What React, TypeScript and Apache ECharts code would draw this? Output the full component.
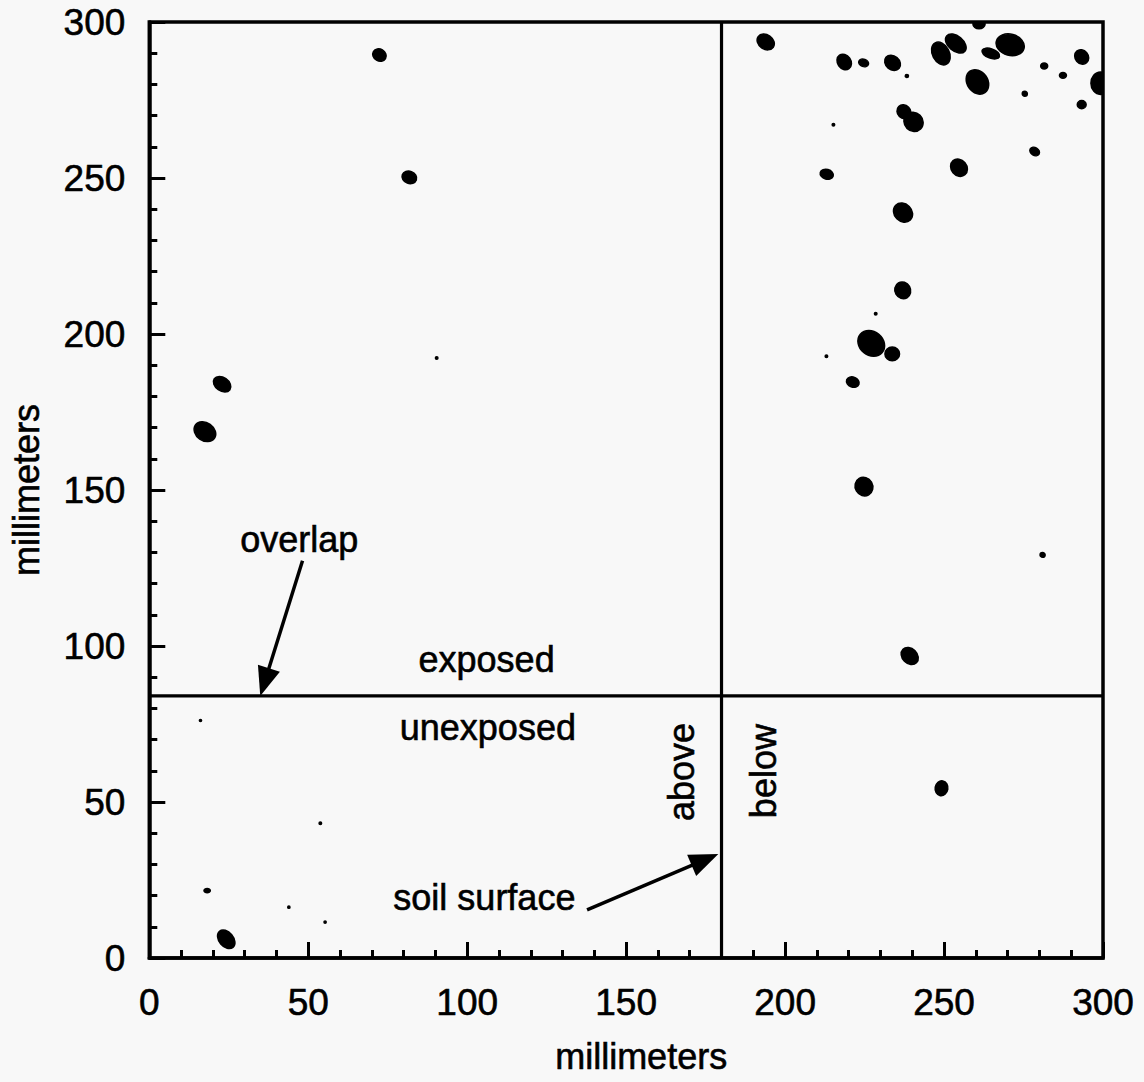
import React, { useEffect, useRef } from "react";
import * as echarts from "echarts";

// Axis range (millimeters)
const AXIS_MIN = 0;
const AXIS_MAX = 300;
const AXIS_STEP = 50;

// Divider lines: soil surface (x) and exposed/unexposed overlap (y)
const dividerX = 180;
const dividerY = 84;

// Stain blobs: centre (mm), width/height (mm), tilt (deg)
const blobX = [
  72.4, 81.8, 90.4, 22.9, 17.5, 16.1, 18.2, 43.9, 53.8, 55.3, 24.2,
  193.9, 218.6, 224.7, 233.8, 238.3, 249.0, 253.7, 261.0, 270.8, 264.7,
  260.5, 293.3, 281.5, 287.4, 275.4, 293.3, 299.2, 215.2, 237.4, 240.4,
  278.5, 213.1, 254.7, 237.1, 237.0, 228.5, 227.1, 233.7, 213.0, 221.3,
  224.8, 281.0, 239.2, 249.2,
];
const blobY = [
  289.4, 250.2, 192.3, 183.9, 168.7, 76.1, 21.6, 16.3, 43.2, 11.5, 6.0,
  293.6, 287.2, 286.9, 286.9, 282.7, 289.9, 293.1, 299.3, 292.7, 289.9,
  280.8, 288.8, 285.9, 282.9, 277.0, 273.5, 280.4, 267.1, 271.2, 268.0,
  258.5, 251.2, 253.3, 238.9, 214.0, 206.5, 197.0, 193.6, 192.9, 184.6,
  151.1, 129.2, 96.8, 54.4,
];
const blobW = [
  4.4, 4.7, 0.8, 6.0, 7.3, 0.7, 2.0, 0.7, 0.8, 0.7, 6.6,
  5.8, 5.2, 3.2, 5.4, 1.0, 7.6, 7.5, 3.8, 9.0, 5.8,
  8.2, 4.8, 2.2, 2.2, 1.6, 2.8, 6.0, 0.8, 4.7, 6.3,
  3.2, 4.2, 5.8, 6.5, 5.4, 0.8, 9.0, 4.6, 0.8, 4.1,
  6.0, 1.6, 6.0, 4.0,
];
const blobH = [
  3.8, 3.9, 0.8, 4.3, 5.8, 0.6, 1.3, 0.7, 0.8, 0.7, 4.6,
  4.6, 4.3, 2.4, 4.4, 1.0, 5.4, 4.8, 3.0, 6.8, 3.0,
  6.6, 4.2, 1.9, 1.8, 1.6, 2.6, 7.2, 0.8, 4.2, 5.9,
  2.5, 3.1, 5.0, 5.6, 5.0, 0.8, 7.6, 4.4, 0.8, 3.2,
  5.6, 1.5, 4.8, 4.8,
];
const blobTilt = [
  -30, -20, 0, -35, -35, 0, 0, 0, 0, 0, -50,
  -35, -55, -20, -40, 0, -62, -40, 0, -15, -20,
  -55, -50, 0, 0, 0, 0, 0, 0, -45, -45,
  -30, -15, -50, -45, -60, 0, -40, 0, 0, -20,
  -60, 0, -45, -10,
];

// Annotations
const noteText = ["overlap", "exposed", "unexposed", "soil surface", "above", "below"];
const noteX = [47.2, 106.1, 106.5, 105.4, 167.4, 193.1];
const noteY = [134.2, 95.7, 73.9, 19.4, 59.6, 59.9];
const noteAngle = [0, 0, 0, 0, 90, 90];

// Arrows
const arrowFromX = [48.2, 137.7];
const arrowFromY = [127.3, 15.4];
const arrowToX = [34.9, 179.0];
const arrowToY = [84.0, 33.3];

const FONT = '"Liberation Sans", Arial, Helvetica, sans-serif';
const INK = "#000";

export default function App() {
  const ref = useRef<HTMLDivElement>(null);

  useEffect(() => {
    const chart = echarts.init(ref.current!, null, { renderer: "svg" });

    const blobData = blobX.map((x, i) => [x, blobY[i], blobW[i], blobH[i], blobTilt[i]]);
    const noteData = noteX.map((x, i) => [x, noteY[i], noteAngle[i], i]);
    const arrowData = arrowFromX.map((x, i) => [x, arrowFromY[i], arrowToX[i], arrowToY[i]]);

    const textStyle = {
      fontSize: 37,
      fontFamily: FONT,
      color: INK,
      textBorderColor: INK,
      textBorderWidth: 0.6,
    };

    const axisCommon = {
      type: "value",
      min: AXIS_MIN,
      max: AXIS_MAX,
      interval: AXIS_STEP,
      nameLocation: "middle",
      axisLine: { show: true, onZero: false, lineStyle: { color: INK, width: 3.5 } },
      axisTick: { show: true, inside: true, length: 16, lineStyle: { color: INK, width: 3 } },
      minorTick: { show: true, splitNumber: 5, length: 8, lineStyle: { color: INK, width: 3 } },
      splitLine: { show: false },
      minorSplitLine: { show: false },
    };

    chart.setOption({
      animation: false,
      backgroundColor: "#f8f8f8",
      grid: {
        left: 147,
        right: 41,
        top: 22,
        bottom: 124,
        show: true,
        borderColor: INK,
        borderWidth: 3.5,
        backgroundColor: "transparent",
      },
      xAxis: {
        ...axisCommon,
        name: "millimeters",
        nameGap: 80,
        nameTextStyle: { ...textStyle, fontSize: 36, padding: [0, 0, 0, 30] },
        axisLabel: { ...textStyle, margin: 26 },
      },
      yAxis: {
        ...axisCommon,
        name: "millimeters",
        nameGap: 105,
        nameTextStyle: { ...textStyle, fontSize: 36 },
        axisLabel: { ...textStyle, margin: 24 },
      },
      series: [
        {
          type: "line",
          data: [
            [dividerX, AXIS_MIN],
            [dividerX, AXIS_MAX],
          ],
          symbol: "none",
          lineStyle: { color: INK, width: 3.2 },
          silent: true,
        },
        {
          type: "line",
          data: [
            [AXIS_MIN, dividerY],
            [AXIS_MAX, dividerY],
          ],
          symbol: "none",
          lineStyle: { color: INK, width: 3.2 },
          silent: true,
        },
        {
          type: "custom",
          clip: true,
          data: blobData,
          encode: { x: 0, y: 1 },
          renderItem: (_params: any, api: any) => {
            const p = api.coord([api.value(0), api.value(1)]);
            const s = api.size([api.value(2), api.value(3)]);
            return {
              type: "ellipse",
              x: p[0],
              y: p[1],
              rotation: (api.value(4) * Math.PI) / 180,
              shape: { cx: 0, cy: 0, rx: Math.max(s[0] / 2, 1), ry: Math.max(s[1] / 2, 1) },
              style: { fill: INK, stroke: INK, lineWidth: 1.5 },
            };
          },
        },
        {
          type: "custom",
          data: arrowData,
          encode: { x: [0, 2], y: [1, 3] },
          renderItem: (_params: any, api: any) => {
            const p0 = api.coord([api.value(0), api.value(1)]);
            const p1 = api.coord([api.value(2), api.value(3)]);
            const dx = p1[0] - p0[0];
            const dy = p1[1] - p0[1];
            const len = Math.sqrt(dx * dx + dy * dy);
            const ux = dx / len;
            const uy = dy / len;
            const headLen = 29;
            const headW = 23;
            const bx = p1[0] - ux * headLen;
            const by = p1[1] - uy * headLen;
            const nx = -uy;
            const ny = ux;
            return {
              type: "group",
              children: [
                {
                  type: "line",
                  shape: { x1: p0[0], y1: p0[1], x2: bx + ux * 2, y2: by + uy * 2 },
                  style: { stroke: INK, lineWidth: 3.5 },
                },
                {
                  type: "polygon",
                  shape: {
                    points: [
                      [p1[0], p1[1]],
                      [bx + (nx * headW) / 2, by + (ny * headW) / 2],
                      [bx - (nx * headW) / 2, by - (ny * headW) / 2],
                    ],
                  },
                  style: { fill: INK },
                },
              ],
            };
          },
        },
        {
          type: "custom",
          data: noteData,
          encode: { x: 0, y: 1 },
          renderItem: (_params: any, api: any) => {
            const p = api.coord([api.value(0), api.value(1)]);
            const idx = api.value(3);
            return {
              type: "text",
              x: p[0],
              y: p[1],
              rotation: (api.value(2) * Math.PI) / 180,
              style: {
                text: noteText[idx],
                fontSize: 36,
                fontFamily: FONT,
                fill: INK,
                stroke: INK,
                lineWidth: 0.6,
                align: "center",
                verticalAlign: "middle",
              },
            };
          },
        },
      ],
    });

    return () => chart.dispose();
  }, []);

  return (
    <div
      ref={ref}
      style={{ position: "absolute", left: 0, top: 0, width: 1144, height: 1082 }}
    />
  );
}
